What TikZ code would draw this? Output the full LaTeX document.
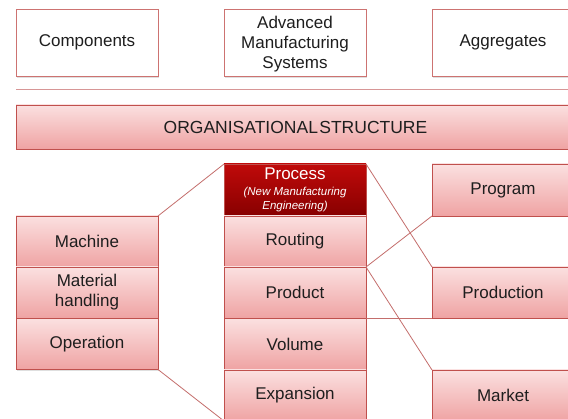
\documentclass[tikz,border=0pt]{standalone}
\usepackage{fontspec}
\setmainfont{Liberation Sans}
\usetikzlibrary{shadows}
\definecolor{bord}{RGB}{192,80,77}
\definecolor{pinktop}{RGB}{251,224,224}
\definecolor{pinkbot}{RGB}{239,163,163}
\definecolor{redtop}{RGB}{192,10,10}
\definecolor{redbot}{RGB}{135,0,0}
\definecolor{linkc}{RGB}{196,110,108}
\definecolor{sepc}{RGB}{215,150,150}
\definecolor{txt}{RGB}{30,30,30}
\newcommand{\subfont}{\fontsize{11.5}{12.5}\selectfont\itshape}
\tikzset{
  base/.style={draw=bord, line width=0.9pt, inner sep=0pt, outer sep=0pt,
    minimum width=142pt, minimum height=51pt, align=center, text=txt,
    font=\fontsize{17}{20}\selectfont,
    drop shadow={opacity=0.25, shadow xshift=1pt, shadow yshift=-1.5pt}},
  pinkbox/.style={base, top color=pinktop, bottom color=pinkbot},
  whitebox/.style={base, fill=white, draw=bord!80, minimum height=67pt},
  redbox/.style={base, top color=redtop, bottom color=redbot, text=white, draw=bord},
  link/.style={draw=linkc, line width=0.8pt}
}
\begin{document}
\begin{tikzpicture}[x=1pt,y=-1pt]
\useasboundingbox (0,0) rectangle (568,419);
\fill[white] (0,0) rectangle (568,419);
% top row
\node[whitebox] (comp) at (87,42.7) {Components};
\node[whitebox] (ams) at (295,42.7) {\rule{0pt}{15pt}Advanced\\Manufacturing\\Systems};
\node[whitebox] (agg) at (503,42.7) {Aggregates};
% separator
\coordinate (sepL) at (16,89.5);
\coordinate (sepR) at (568,89.5);
\draw[draw=sepc, line width=1pt] (sepL) -- (sepR);
% organisational structure
\node[pinkbox, minimum width=559pt, minimum height=44pt, font=\fontsize{17.5}{20}\selectfont] (org) at (295.5,127) {ORGANISATIONAL\hspace{0.08em}STRUCTURE};
% left column
\node[pinkbox] (mach) at (87,241.5) {Machine};
\node[pinkbox] (mat) at (87,292.5) {Material\\handling};
\node[pinkbox] (oper) at (87,344) {Operation};
% middle column
\node[redbox, minimum height=52pt] (proc) at (295,190) {Process\\[-4pt]\subfont (New Manufacturing\\[-6pt]\subfont Engineering)};
\node[pinkbox] (rout) at (295,241.5) {Routing};
\node[pinkbox] (prod) at (295,292.5) {Product};
\node[pinkbox] (vol) at (295,344) {Volume};
\node[pinkbox] (exp) at (295,395.5) {Expansion};
% right column
\node[pinkbox, minimum height=52pt] (prog) at (503,190) {Program};
\node[pinkbox] (pron) at (503,292.5) {Production};
\node[pinkbox] (mark) at (503,395.5) {Market};
% connectors
\draw[link] (mach.north east) -- (proc.north west);
\draw[link] (oper.south east) -- (exp.south west);
\draw[link] (proc.north east) -- (pron.north west);
\draw[link] (prod.north east) -- (prog.south west);
\draw[link] (prod.north east) -- (mark.north west);
\draw[link] (prod.south east) -- (pron.south west);
\end{tikzpicture}
\end{document}
